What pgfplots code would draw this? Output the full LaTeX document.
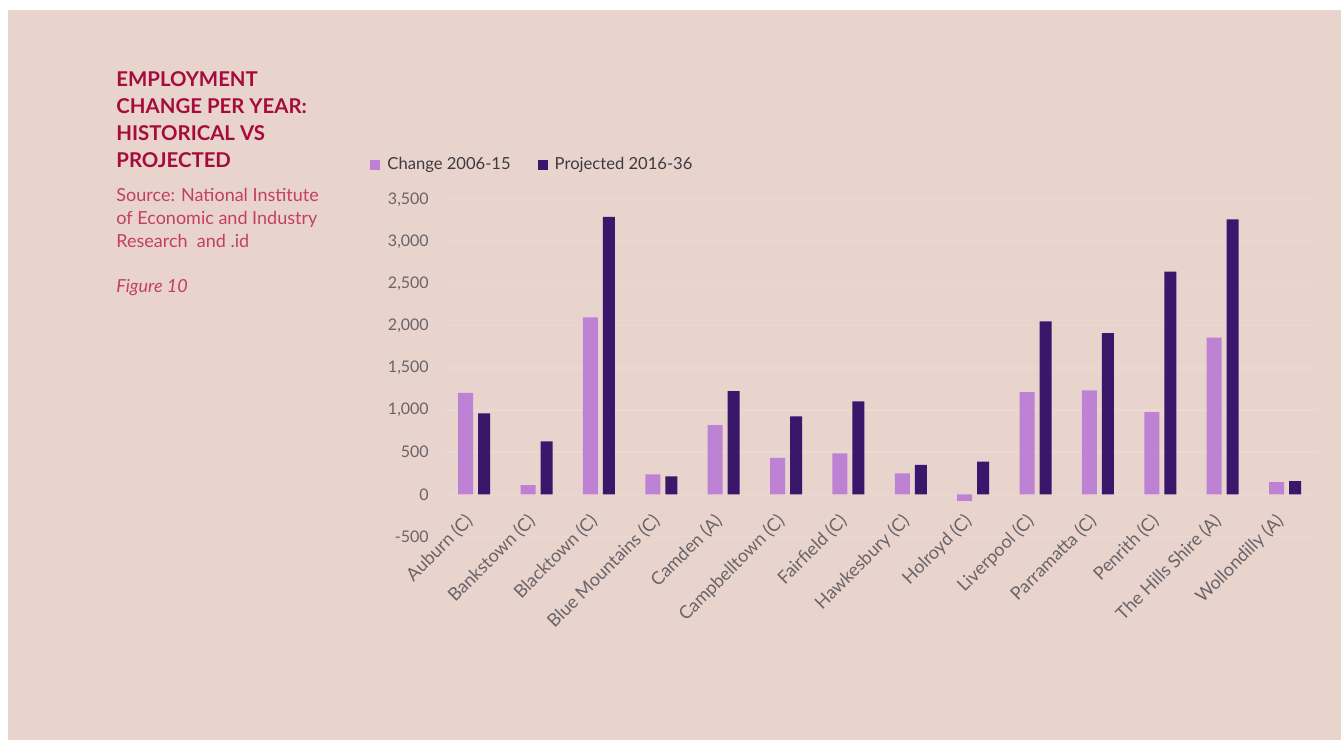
\documentclass[border=0pt]{standalone}
\usepackage{pgfplots}
\pgfplotsset{compat=1.18}
\usepackage{fontspec}
\setmainfont{Lato}

\definecolor{bgpink}{HTML}{E8D3CD}
\definecolor{gridpink}{HTML}{EBD8D2}
\definecolor{lightbar}{HTML}{BD82D4}
\definecolor{darkbar}{HTML}{3B176B}
\definecolor{titlered}{HTML}{A60B3C}
\definecolor{srcred}{HTML}{C4405F}
\definecolor{ticktext}{HTML}{6A6468}
\definecolor{legtext}{HTML}{3E3A3E}

\begin{document}
\begin{tikzpicture}
% page and panel (1px = 0.5pt)
\fill[white] (0,0) rectangle (670.5pt,370pt);
\fill[bgpink] (4pt,0) rectangle (670.5pt,365pt);

% title block
\begin{scope}[every node/.style={anchor=base west, inner sep=0pt}]
\node[font=\fontsize{10.2}{12}\selectfont\bfseries, text=titlered] at (58pt,326.5pt) {EMPLOYMENT};
\node[font=\fontsize{10.2}{12}\selectfont\bfseries, text=titlered] at (58pt,313pt) {CHANGE PER YEAR:};
\node[font=\fontsize{10.2}{12}\selectfont\bfseries, text=titlered] at (58pt,299.5pt) {HISTORICAL VS};
\node[font=\fontsize{10.2}{12}\selectfont\bfseries, text=titlered] at (58pt,286pt) {PROJECTED};
\node[font=\fontsize{9}{11}\selectfont, text=srcred] at (58pt,269pt) {Source: National Institute};
\node[font=\fontsize{9}{11}\selectfont, text=srcred] at (58pt,257.5pt) {of Economic and Industry};
\node[font=\fontsize{9}{11}\selectfont, text=srcred] at (58pt,246pt) {Research\ \ and .id};
\node[font=\fontsize{9}{11}\selectfont\itshape, text=srcred] at (58pt,223.5pt) {Figure 10};
\end{scope}

\begin{axis}[
    at={(221.9pt,101.75pt)}, anchor=south west,
    scale only axis,
    width=436.6pt, height=168.6pt,
    ybar,
    xmin=-0.5, xmax=13.5,
    ymin=-500, ymax=3500,
    ytick={-500,0,500,...,3500},
    xtick=data,
    xticklabels={Auburn (C),Bankstown (C),Blacktown (C),Blue Mountains (C),Camden (A),Campbelltown (C),Fairfield (C),Hawkesbury (C),Holroyd (C),Liverpool (C),Parramatta (C),Penrith (C),The Hills Shire (A),Wollondilly (A)},
    axis line style={draw=none},
    major tick length=0pt,
    ymajorgrids,
    grid style={gridpink, line width=0.7pt},
    tick label style={font=\fontsize{8}{9}\selectfont, text=ticktext},
    xticklabel style={rotate=45, anchor=north east, yshift=16pt, xshift=8pt, font=\fontsize{9}{10}\selectfont},
    yticklabel style={xshift=-4pt},
    /pgf/number format/.cd, 1000 sep={,}, assume math mode=true,
    /pgfplots/.cd,
    legend columns=2,
    legend style={at={(-0.0845,1.102)}, anchor=west, draw=none, fill=none,
        font=\fontsize{8.3}{9}\selectfont, text=legtext, inner sep=0pt,
        /tikz/every odd column/.append style={column sep=1.5pt},
        /tikz/every even column/.append style={column sep=11.5pt}},
    legend image code/.code={\fill[#1] (0pt,-2.5pt) rectangle (5pt,2.5pt);},
]
\addplot[fill=lightbar, draw=none, bar width=7.5pt, bar shift=-4.65pt] coordinates {
    (0,1205) (1,110) (2,2100) (3,237) (4,822) (5,434) (6,486)
    (7,249) (8,-76) (9,1213) (10,1234) (11,976) (12,1858) (13,146)
};
\addplot[fill=darkbar, draw=none, bar width=6pt, bar shift=4.6pt] coordinates {
    (0,961) (1,629) (2,3293) (3,213) (4,1225) (5,925) (6,1103)
    (7,351) (8,387) (9,2052) (10,1913) (11,2641) (12,3262) (13,158)
};
\legend{Change 2006-15, Projected 2016-36}
\end{axis}

\pgfresetboundingbox
\useasboundingbox (0,0) rectangle (670.5pt,370pt);
\end{tikzpicture}
\end{document}
